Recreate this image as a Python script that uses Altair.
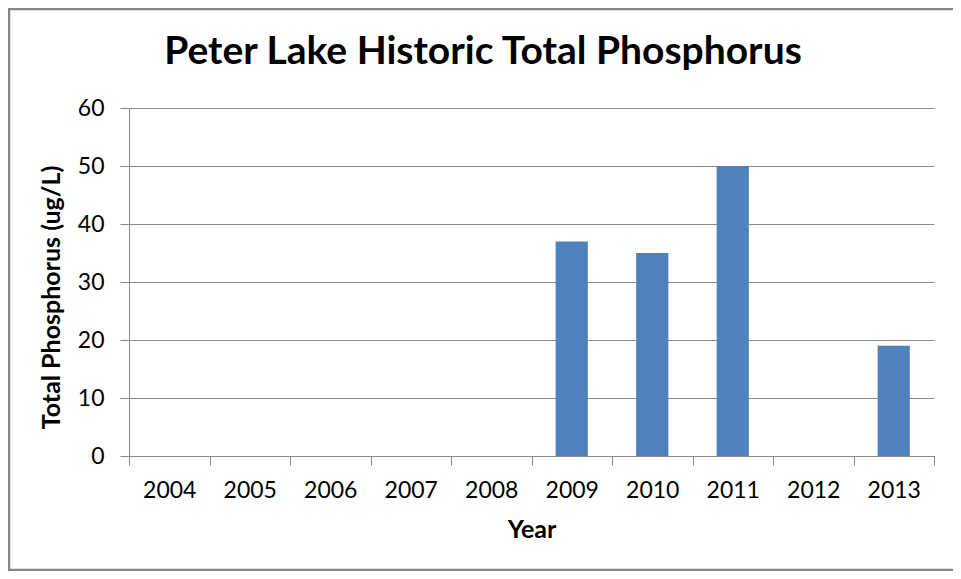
import altair as alt
import pandas as pd

# ---- data ----
years = ["2004", "2005", "2006", "2007", "2008", "2009", "2010", "2011", "2012", "2013"]
total_phosphorus = [None, None, None, None, None, 37, 35, 50, None, 19]
y_ticks = [0, 10, 20, 30, 40, 50, 60]
chart_title = "Peter Lake Historic Total Phosphorus"
x_title = "Year"
y_title = "Total Phosphorus (ug/L)"

df = pd.DataFrame({"Year": years, "TP": total_phosphorus})

W, H = 805, 348
GRID = "#898989"
FONT = "Lato"

bars = alt.Chart(df).mark_bar(
    color="#4F81BD", width=alt.RelativeBandSize(0.4)
).encode(
    x=alt.X(
        "Year:N",
        sort=years,
        scale=alt.Scale(paddingInner=0, paddingOuter=0),
        axis=alt.Axis(
            title=x_title,
            labelAngle=0,
            tickBand="extent",
            ticks=True,
            tickSize=9,
            tickColor=GRID,
            domainColor=GRID,
            grid=False,
            labelFont=FONT,
            labelFontSize=23,
            labelColor="#000000",
            labelBaseline="alphabetic",
            labelPadding=32,
            titleFont=FONT,
            titleFontSize=25,
            titleFontWeight="bold",
            titleColor="#000000",
            titleBaseline="alphabetic",
            titleX=W / 2,
            titleY=81,
        ),
    ),
    y=alt.Y(
        "TP:Q",
        scale=alt.Scale(domain=[0, 60], nice=False),
        axis=alt.Axis(
            title=y_title,
            values=y_ticks,
            grid=True,
            gridColor=GRID,
            tickSize=9,
            tickColor=GRID,
            domainColor=GRID,
            labelFont=FONT,
            labelFontSize=23,
            labelColor="#000000",
            labelPadding=16,
            titleFont=FONT,
            titleFontSize=25,
            titleFontWeight="bold",
            titleColor="#000000",
            titleAngle=-90,
            titleAlign="center",
            titleBaseline="middle",
            titleX=-78,
            titleY=189,
        ),
    ),
)

frame_df = pd.DataFrame({"k": [0]})
frame = alt.Chart(frame_df).mark_rect(
    filled=False, stroke="#878787", strokeWidth=2.5
).encode(
    x=alt.value(-120), x2=alt.value(W + 40), y=alt.value(-99), y2=alt.value(462)
)

title = alt.Chart(frame_df).mark_text(
    text=chart_title,
    font=FONT,
    fontSize=39,
    fontWeight="bold",
    align="center",
    baseline="alphabetic",
    color="#000000",
).encode(x=alt.value(354), y=alt.value(-44))

chart = alt.layer(bars, frame, title).properties(
    width=W,
    height=H,
    padding={"left": 121, "top": 100, "right": 19, "bottom": 115},
    autosize=alt.AutoSizeParams(type="none"),
    background="#ffffff",
).configure_view(stroke=None)

chart.save("out.html", embed_options={"renderer": "svg", "actions": False})
